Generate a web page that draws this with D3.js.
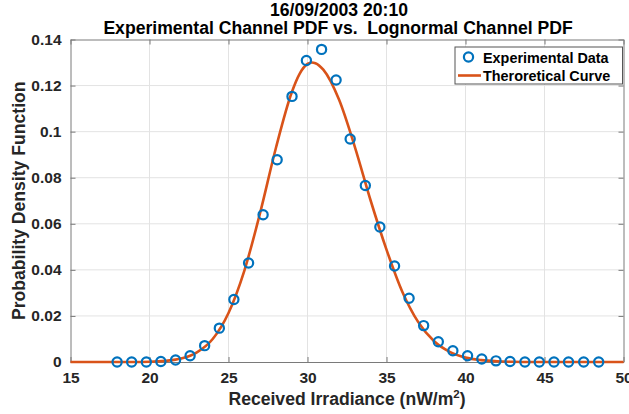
<!DOCTYPE html>
<html>
<head>
<meta charset="utf-8">
<script src="https://cdn.jsdelivr.net/npm/d3@7"></script>
<style>
  html, body { margin: 0; padding: 0; background: #fff; }
  svg { display: block; }
  text { font-family: "Liberation Sans", Arial, Helvetica, sans-serif; font-weight: bold; white-space: pre; }
</style>
</head>
<body>
<svg id="chart" width="629" height="414"></svg>
<script>
// ---- data ----
const expX = [17.95, 18.87, 19.80, 20.72, 21.65, 22.57, 23.49, 24.42, 25.34, 26.27,
              27.19, 28.08, 29.02, 29.93, 30.89, 31.81, 32.70, 33.66, 34.58, 35.51,
              36.43, 37.35, 38.28, 39.20, 40.13, 41.03, 41.93, 42.82, 43.76, 44.67,
              45.60, 46.52, 47.48, 48.43];
const expY = [0, 0, 0, 0.0002, 0.0009, 0.0027, 0.0071, 0.0147, 0.0271, 0.0430,
              0.0639, 0.0878, 0.1153, 0.1309, 0.1357, 0.1224, 0.0968, 0.0766, 0.0586, 0.0417,
              0.0277, 0.0158, 0.0088, 0.0049, 0.0027, 0.0013, 0.0005, 0.0002, 0, 0,
              0, 0, 0, 0];
const curveX = [15, 16, 17, 18, 19, 20, 21, 22, 23, 24, 25, 26, 27, 28, 29, 29.5, 30, 30.27, 30.5, 31,
                32, 33, 34, 35, 36, 37, 38, 39, 40, 41, 42, 43, 44, 45, 46, 47, 48, 49, 50];
const curveY = [0, 0, 0, 0, 0, 0.0001, 0.0005, 0.0015, 0.0042, 0.0100, 0.0213, 0.0396, 0.0647, 0.0929, 0.1170, 0.1251, 0.1294, 0.1300, 0.1297, 0.1269,
                0.1138, 0.0933, 0.0700, 0.0488, 0.0305, 0.0174, 0.0091, 0.0044, 0.0019, 0.0008, 0.0003, 0.0001, 0, 0, 0, 0, 0, 0, 0];
const xTicks = [15, 20, 25, 30, 35, 40, 45, 50];
const yTicks = [0, 0.02, 0.04, 0.06, 0.08, 0.1, 0.12, 0.14];
const yTickLabels = ["0", "0.02", "0.04", "0.06", "0.08", "0.1", "0.12", "0.14"];
const titleLines = ["16/09/2003 20:10", "Experimental Channel PDF vs.  Lognormal Channel PDF"];
const xLabel = "Received Irradiance (nW/m";
const yLabel = "Probability Density Function";
const legendLabels = ["Experimental Data", "Theroretical Curve"];

// ---- layout ----
const L = 70.5, R = 623.5, T = 39.5, B = 362;
const blue = "#0072BD", orange = "#D95319", axisCol = "#7a7a7a", textCol = "#262626";

const svg = d3.select("#chart");
svg.append("rect").attr("width", 629).attr("height", 414).attr("fill", "#fff");

const x = d3.scaleLinear().domain([15, 50]).range([L, R]);
const y = d3.scaleLinear().domain([0, 0.14]).range([B, T]);

// grid
const grid = svg.append("g");
grid.selectAll(".gx").data(xTicks.slice(1, -1)).enter().append("line")
  .attr("x1", d => x(d)).attr("x2", d => x(d)).attr("y1", T).attr("y2", B)
  .attr("stroke", "#e3e3e3").attr("stroke-width", 1);
grid.selectAll(".gy").data(yTicks.slice(1, -1)).enter().append("line")
  .attr("y1", d => y(d)).attr("y2", d => y(d)).attr("x1", L).attr("x2", R)
  .attr("stroke", "#e3e3e3").attr("stroke-width", 1);

// axes (ticks inside)
const xAxisB = d3.axisBottom(x).tickValues(xTicks).tickSizeInner(-5).tickSizeOuter(0).tickPadding(10).tickFormat(d3.format("d"));
const xAxisT = d3.axisTop(x).tickValues(xTicks).tickSizeInner(-5).tickSizeOuter(0).tickFormat("");
const yAxisL = d3.axisLeft(y).tickValues(yTicks).tickSizeInner(-5).tickSizeOuter(0).tickPadding(9)
  .tickFormat((d, i) => yTickLabels[i]);
const yAxisR = d3.axisRight(y).tickValues(yTicks).tickSizeInner(-5).tickSizeOuter(0).tickFormat("");

function styleAxis(g) {
  g.select(".domain").attr("stroke", axisCol).attr("stroke-width", 1);
  g.selectAll(".tick line").attr("stroke", axisCol);
  g.selectAll(".tick text").attr("fill", textCol).style("font-size", "15.5px").style("font-weight", "bold")
    .style("font-family", "'Liberation Sans', Arial, sans-serif");
}
svg.append("g").attr("transform", `translate(0,${B})`).call(xAxisB).call(styleAxis);
svg.append("g").attr("transform", `translate(0,${T})`).call(xAxisT).call(styleAxis);
svg.append("g").attr("transform", `translate(${L},0)`).call(yAxisL).call(styleAxis);
svg.append("g").attr("transform", `translate(${R},0)`).call(yAxisR).call(styleAxis);

// theoretical curve
const line = d3.line().x((d, i) => x(curveX[i])).y((d, i) => y(curveY[i])).curve(d3.curveMonotoneX);
svg.append("path").datum(curveY).attr("d", line)
  .attr("fill", "none").attr("stroke", orange).attr("stroke-width", 2.6);

// experimental points
svg.append("g").selectAll("circle").data(expX).enter().append("circle")
  .attr("cx", (d) => x(d)).attr("cy", (d, i) => y(expY[i])).attr("r", 4.6)
  .attr("fill", "none").attr("stroke", blue).attr("stroke-width", 2.2);

// titles
svg.append("text").attr("x", 339).attr("y", 15.5).attr("text-anchor", "middle")
  .style("font-size", "17.6px").attr("fill", "#000").text(titleLines[0]);
svg.append("text").attr("x", 338).attr("y", 34).attr("text-anchor", "middle")
  .style("font-size", "17.6px").attr("fill", "#000").text(titleLines[1]);

// x label
const xl = svg.append("text").attr("x", (L + R) / 2).attr("y", 405).attr("text-anchor", "middle")
  .style("font-size", "17.6px").attr("fill", textCol);
xl.append("tspan").text(xLabel);
xl.append("tspan").attr("dy", -7).style("font-size", "11.5px").text("2");
xl.append("tspan").attr("dy", 7).text(")");

// y label
svg.append("text").attr("transform", `translate(25,${(T + B) / 2}) rotate(-90)`)
  .attr("text-anchor", "middle").style("font-size", "17.6px").attr("fill", textCol).text(yLabel);

// legend
const lg = svg.append("g");
lg.append("rect").attr("x", 455).attr("y", 47).attr("width", 167.5).attr("height", 37)
  .attr("fill", "#fff").attr("stroke", "#555").attr("stroke-width", 1);
lg.append("circle").attr("cx", 468.5).attr("cy", 57).attr("r", 4.6)
  .attr("fill", "none").attr("stroke", blue).attr("stroke-width", 2.2);
lg.append("text").attr("x", 483).attr("y", 62.5).style("font-size", "14.4px").attr("fill", "#000").text(legendLabels[0]);
lg.append("line").attr("x1", 458).attr("x2", 481).attr("y1", 75.5).attr("y2", 75.5)
  .attr("stroke", orange).attr("stroke-width", 2.6);
lg.append("text").attr("x", 483).attr("y", 81).style("font-size", "14.4px").attr("fill", "#000").text(legendLabels[1]);
</script>
</body>
</html>
